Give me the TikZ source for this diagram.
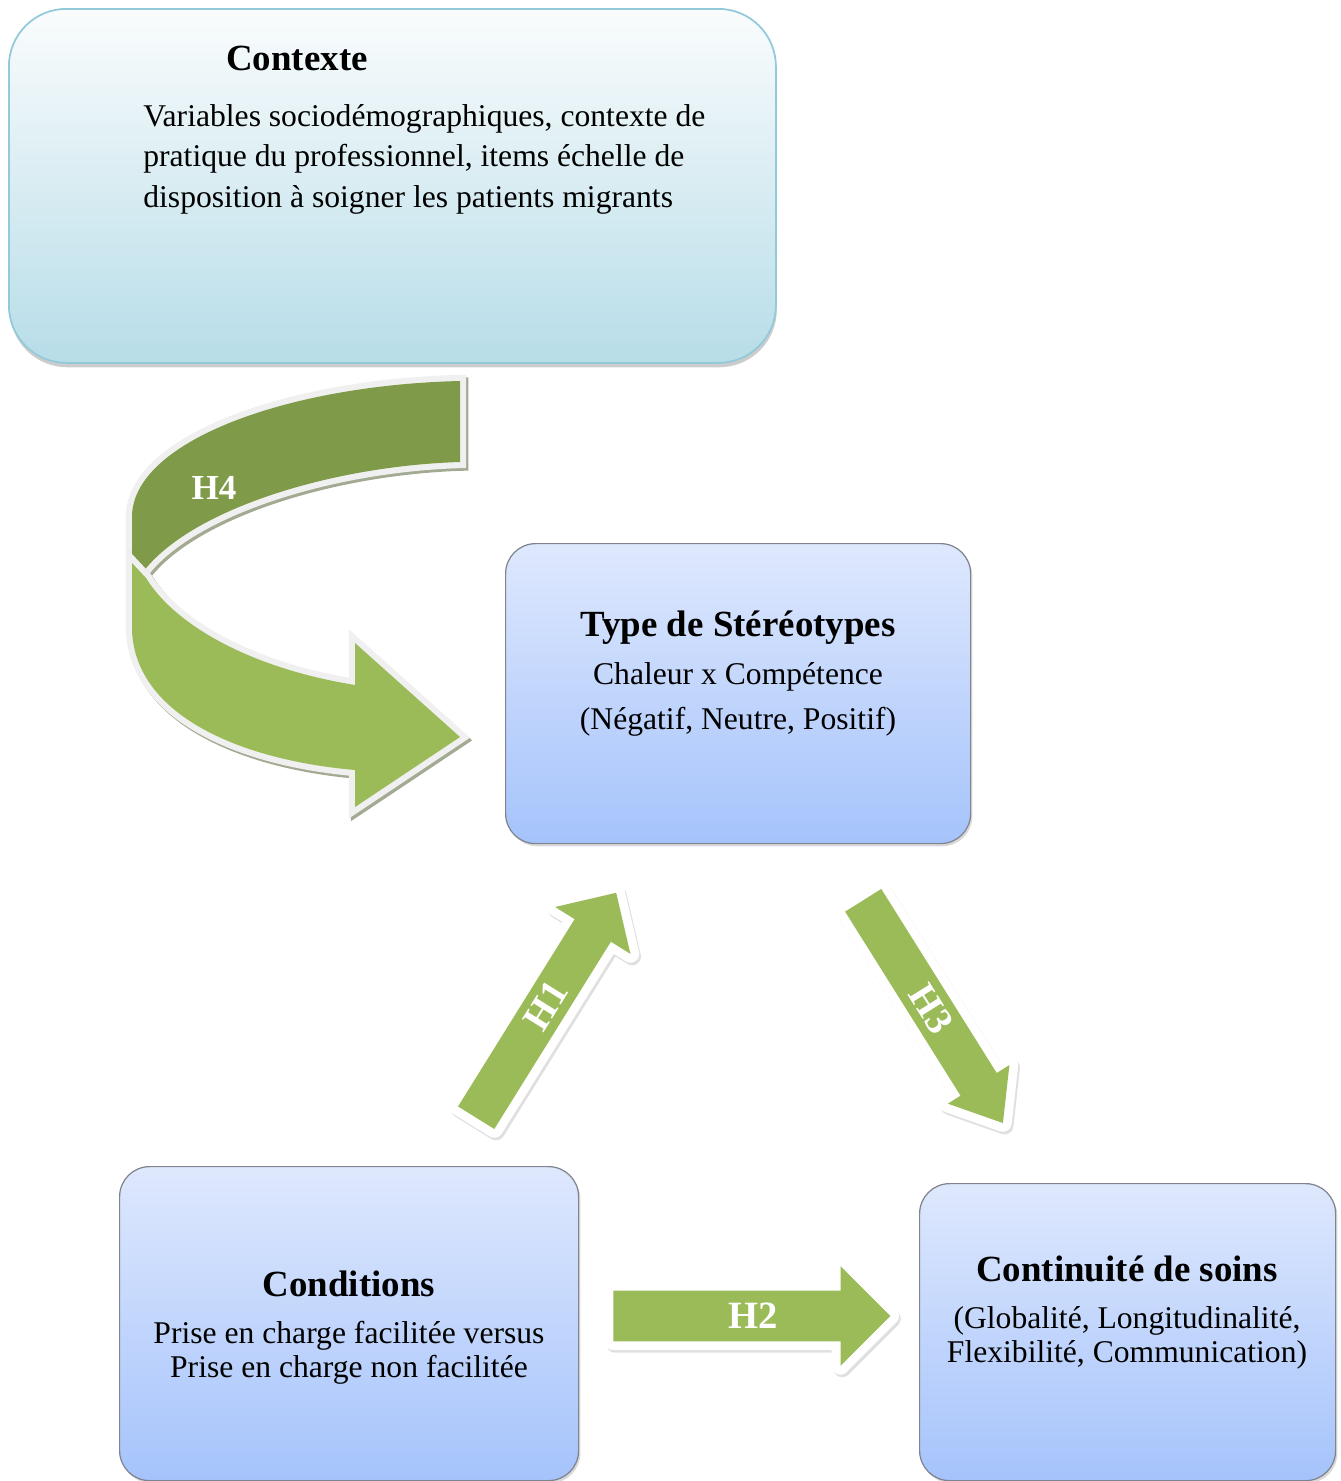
\documentclass[tikz,border=0pt]{standalone}
\usepackage{fontspec}
\setmainfont{Liberation Serif}
\usetikzlibrary{shapes.arrows,shadows}

\definecolor{ctxtop}{HTML}{FAFCFD}
\definecolor{ctxbot}{HTML}{B7DDE8}
\definecolor{ctxline}{HTML}{93CADA}
\definecolor{boxtop}{HTML}{DEE8FD}
\definecolor{boxbot}{HTML}{A5C3FB}
\definecolor{boxline}{HTML}{80848E}
\definecolor{hgreen}{HTML}{9BBB59}
\definecolor{hdark}{HTML}{7F9A48}
\definecolor{hshade}{HTML}{A3AA92}

\tikzset{
  bluebox/.style={rectangle, rounded corners=0.6cm, draw=boxline, line width=0.7pt,
    top color=boxtop, bottom color=boxbot,
    drop shadow={shadow xshift=1pt, shadow yshift=-1.5pt, opacity=0.3}},
  hyparrow/.style={single arrow, single arrow head indent=0pt, inner sep=0pt,
    fill=hgreen, text=white, font=\fontsize{22}{22}\selectfont\bfseries,
    preaction={draw=black!12, line width=10pt, line join=round,
      transform canvas={shift={(1pt,-1.5pt)}}},
    preaction={draw=white, line width=10pt, line join=round}},
  ribbon/.style={line join=round,
    preaction={draw=hshade, line width=7pt, transform canvas={shift={(1.2pt,-1.5pt)}}},
    preaction={draw=black!6, line width=7pt}},
  title/.style={anchor=base, font=\fontsize{21}{21}\selectfont\bfseries},
  body/.style={anchor=base, font=\fontsize{18}{#1}\selectfont},
}

\begin{document}
\begin{tikzpicture}[x=0.02cm, y=-0.02cm]
\useasboundingbox (0,0) rectangle (1341,1481);
\clip (0,0) rectangle (1341,1481);

% contexte
\node[rectangle, rounded corners=1.15cm, draw=ctxline, line width=1pt,
  top color=ctxtop, bottom color=ctxbot,
  drop shadow={shadow xshift=0.5pt, shadow yshift=-2.5pt, opacity=0.4},
  minimum width=767*0.02cm, minimum height=354*0.02cm, anchor=north west] (ctx) at (8,8) {};
\node[title] (ctxtitle) at (297,70) {Contexte};
\node[body=22.8pt, align=left, anchor=base west, inner xsep=0pt] (ctxbody) at (143,207)
  {Variables sociodémographiques, contexte de\\pratique du professionnel, items échelle de\\disposition à soigner les patients migrants};

% the three boxes
\node[bluebox, minimum width=465*0.02cm, minimum height=300*0.02cm, anchor=north west] (stereo) at (505,543) {};
\node[bluebox, minimum width=459*0.02cm, minimum height=314*0.02cm, anchor=north west] (cond) at (119,1166) {};
\node[bluebox, minimum width=416*0.02cm, minimum height=297*0.02cm, anchor=north west] (cont) at (919,1183) {};

\node[title] (sttitle) at (738,636) {Type de Stéréotypes};
\node[body=25.6pt, align=center] (stbody) at (738,729) {Chaleur x Compétence\\(Négatif, Neutre, Positif)};

\node[title] (cdtitle) at (349,1296) {Conditions};
\node[body=18.8pt, align=center] (cdbody) at (349,1377) {Prise en charge facilitée versus\\Prise en charge non facilitée};

\node[title] (cttitle) at (1127,1281) {Continuité de soins};
\node[body=18.8pt, align=center] (ctbody) at (1127,1362) {(Globalité, Longitudinalité,\\Flexibilité, Communication)};

% H4 ribbon
\path[ribbon, fill=hdark] (460,381) -- (460,462) .. controls (330,466) and (190,510) .. (143,572)
  -- (132,561) -- (132,515) .. controls (135,440) and (290,385) .. cycle;
\path[ribbon, fill=hgreen] (132,563) -- (132,630) .. controls (135,715) and (240,760) .. (355,770)
  -- (355,807) -- (460,737) -- (355,643) -- (355,685) .. controls (250,668) and (175,625) .. (146,578) -- cycle;
\node[font=\fontsize{20}{20}\selectfont\bfseries, text=white] (h4) at (214,488) {H4};

% H1 H2 H3
\node[hyparrow, rotate=58.1, text height=19.2pt, text depth=4.7pt, minimum height=5.3cm, minimum width=1.76cm,
  single arrow head extend=0.46cm, single arrow tip angle=90, anchor=tail] (h1) at (476,1118) {\hspace*{0.4cm}H1};
\node[hyparrow, text height=21.5pt, text depth=6.9pt, minimum height=5.54cm, minimum width=1.98cm,
  single arrow head extend=0.49cm, single arrow tip angle=90, anchor=tail] (h2) at (613,1316) {\hspace*{0.55cm}H2};
\node[hyparrow, rotate=-57.9, text height=19.2pt, text depth=4.7pt, minimum height=5.26cm, minimum width=1.44cm,
  single arrow head extend=0.3cm, single arrow tip angle=77, anchor=tail] (h3) at (863,900) {\hspace*{0.4cm}H3};
\end{tikzpicture}
\end{document}
